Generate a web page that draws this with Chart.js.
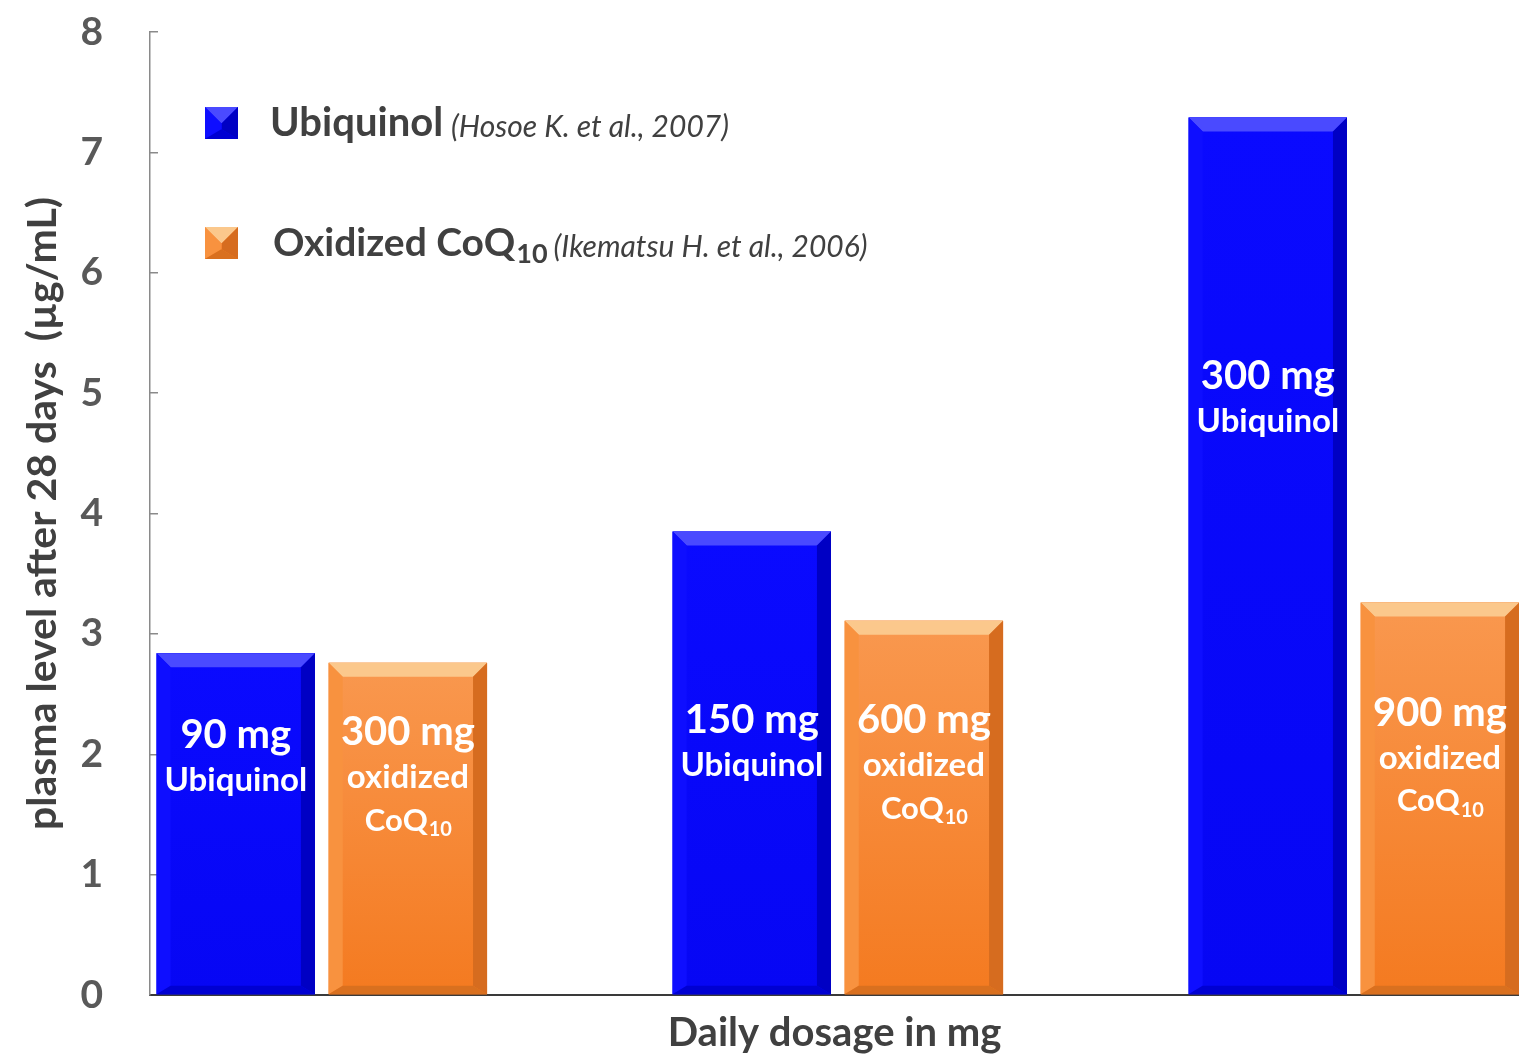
<!DOCTYPE html>
<html>
<head>
<meta charset="utf-8">
<script src="https://cdn.jsdelivr.net/npm/chart.js@4/dist/chart.umd.min.js"></script>
<style>
  html, body { margin: 0; padding: 0; background: #ffffff; }
  #wrap { width: 1519px; height: 1061px; position: relative; }
</style>
</head>
<body>
<div id="wrap"><canvas id="chart"></canvas></div>
<script>
// datos
const groups = [0, 1, 2];
const ubiquinol = [2.84, 3.85, 7.29];
const oxidized = [2.76, 3.11, 3.26];
const ubiDoses = ['90 mg', '150 mg', '300 mg'];
const oxiDoses = ['300 mg', '600 mg', '900 mg'];
const yTicks = [0, 1, 2, 3, 4, 5, 6, 7, 8];

const FONT = 'Lato, "Open Sans", sans-serif';
const GRAY = '#595959';
const DARK = '#404040';

// colores de cada serie: cara, arriba, derecha, izquierda, abajo
const blueStyle = { face: ['#0a0aff', '#0606f4'], top: '#4a4aff', right: '#0000c4', left: '#0e0eff', bottom: '#0000d2' };
const orangeStyle = { face: ['#f9984f', '#f47a20'], top: '#fbc88c', right: '#d66c1f', left: '#f8923f', bottom: '#d9701f' };

// etiquetas dentro de las barras (valor del eje Y donde va la primera línea)
const labelAt = {
    ubi: [2.16, 2.28, 5.14],
    oxi: [2.18, 2.28, 2.34]
};

function drawBevelBar(ctx, left, right, top, bottom, st, d) {
    const g = ctx.createLinearGradient(0, top, 0, bottom);
    g.addColorStop(0, st.face[0]);
    g.addColorStop(1, st.face[1]);
    ctx.fillStyle = g;
    ctx.fillRect(left, top, right - left, bottom - top);

    const poly = (pts, c) => {
        ctx.beginPath();
        ctx.moveTo(pts[0][0], pts[0][1]);
        for (let i = 1; i < pts.length; i++) ctx.lineTo(pts[i][0], pts[i][1]);
        ctx.closePath();
        ctx.fillStyle = c;
        ctx.fill();
    };
    const db = Math.min(d, (bottom - top) / 2) * 0.6;
    poly([[left, top], [right, top], [right - d, top + d], [left + d, top + d]], st.top);
    poly([[right, top], [right, bottom], [right - d, bottom - db], [right - d, top + d]], st.right);
    poly([[left, top], [left + d, top + d], [left + d, bottom - db], [left, bottom]], st.left);
    poly([[left, bottom], [left + d, bottom - db], [right - d, bottom - db], [right, bottom]], st.bottom);
}

function drawCoQ(ctx, x, y, size, sub, color, align) {
    ctx.save();
    ctx.fillStyle = color;
    ctx.textBaseline = 'middle';
    ctx.font = 'bold ' + size + 'px ' + FONT;
    const w1 = ctx.measureText('CoQ').width;
    ctx.font = 'bold ' + sub + 'px ' + FONT;
    const w2 = ctx.measureText('10').width;
    const start = align === 'center' ? x - (w1 + w2) / 2 : x;
    ctx.textAlign = 'left';
    ctx.font = 'bold ' + size + 'px ' + FONT;
    ctx.fillText('CoQ', start, y);
    ctx.font = 'bold ' + sub + 'px ' + FONT;
    ctx.fillText('10', start + w1 + 1, y + size * 0.3);
    ctx.restore();
    return w1 + w2 + 1;
}

const bevelPlugin = {
    id: 'bevel',
    afterDatasetsDraw(chart) {
        const ctx = chart.ctx;
        const styles = [blueStyle, orangeStyle];
        ctx.save();
        chart.data.datasets.forEach((ds, di) => {
            chart.getDatasetMeta(di).data.forEach(bar => {
                const p = bar.getProps(['x', 'y', 'base', 'width'], true);
                drawBevelBar(ctx, p.x - p.width / 2, p.x + p.width / 2, p.y, p.base, styles[di], 14);
            });
        });
        ctx.restore();
    }
};

const textPlugin = {
    id: 'barText',
    afterDatasetsDraw(chart) {
        const ctx = chart.ctx;
        const y = chart.scales.y;
        const area = chart.chartArea;
        ctx.save();
        ctx.textAlign = 'center';
        ctx.textBaseline = 'middle';
        ctx.fillStyle = '#ffffff';

        // azul
        chart.getDatasetMeta(0).data.forEach((bar, i) => {
            const py = y.getPixelForValue(labelAt.ubi[i]);
            ctx.font = 'bold 40px ' + FONT;
            ctx.fillText(ubiDoses[i], bar.x, py);
            ctx.font = 'bold 33px ' + FONT;
            ctx.fillText('Ubiquinol', bar.x, py + 45);
        });
        // naranja
        chart.getDatasetMeta(1).data.forEach((bar, i) => {
            const py = y.getPixelForValue(labelAt.oxi[i]);
            ctx.font = 'bold 40px ' + FONT;
            ctx.fillText(oxiDoses[i], bar.x, py);
            ctx.font = 'bold 33px ' + FONT;
            ctx.fillText('oxidized', bar.x, py + 45);
            drawCoQ(ctx, bar.x, py + 88, 31, 20, '#ffffff', 'center');
        });

        // leyenda
        const lx = area.left + 55;
        [[123, blueStyle], [243, orangeStyle]].forEach(([yc, st]) => {
            drawBevelBar(ctx, lx, lx + 33, yc - 16, yc + 16, st, 16);
        });

        ctx.fillStyle = DARK;
        ctx.textAlign = 'left';
        ctx.font = 'bold 40px ' + FONT;
        ctx.fillText('Ubiquinol', lx + 65, 123);
        const w = ctx.measureText('Ubiquinol').width;
        ctx.font = 'italic 30px ' + FONT;
        ctx.fillText('(Hosoe K. et al., 2007)', lx + 65 + w + 8, 127);

        ctx.font = 'bold 39px ' + FONT;
        ctx.fillText('Oxidized ', lx + 68, 243);
        const w0 = ctx.measureText('Oxidized ').width;
        const wc = drawCoQ(ctx, lx + 68 + w0, 243, 39, 27, DARK, 'left');
        ctx.fillStyle = DARK;
        ctx.font = 'italic 30px ' + FONT;
        ctx.fillText('(Ikematsu H. et al., 2006)', lx + 68 + w0 + wc + 6, 247);

        ctx.restore();
    }
};

new Chart(document.getElementById('chart'), {
    type: 'bar',
    data: {
        datasets: [
            {
                label: 'Ubiquinol (Hosoe K. et al., 2007)',
                data: groups.map((g, i) => ({ x: g, y: ubiquinol[i] })),
                backgroundColor: blueStyle.face[0],
                borderWidth: 0
            },
            {
                label: 'Oxidized CoQ10 (Ikematsu H. et al., 2006)',
                data: groups.map((g, i) => ({ x: g, y: oxidized[i] })),
                backgroundColor: orangeStyle.face[1],
                borderWidth: 0
            }
        ]
    },
    options: {
        responsive: true,
        maintainAspectRatio: false,
        animation: false,
        categoryPercentage: 0.667,
        barPercentage: 0.92,
        layout: { padding: { left: 18, top: 32, right: 0, bottom: 4 } },
        plugins: {
            legend: { display: false },
            tooltip: { enabled: false }
        },
        scales: {
            x: {
                type: 'linear',
                bounds: 'data',
                offset: false,
                min: -0.333,
                max: 2.32,
                afterBuildTicks: (scale) => {
                    scale.ticks = groups.map(g => ({ value: g }));
                    scale.min = -0.333;
                    scale.max = 2.32;
                },
                grid: { display: false, drawTicks: false },
                border: { display: true, color: '#3a3a3a', width: 2 },
                ticks: { display: false },
                title: {
                    display: true,
                    text: 'Daily dosage in mg',
                    color: DARK,
                    font: { family: FONT, size: 40, weight: 'bold' },
                    padding: { top: 14, bottom: 0 }
                }
            },
            y: {
                min: 0,
                max: 8,
                afterBuildTicks: (scale) => { scale.ticks = yTicks.map(v => ({ value: v })); },
                afterFit: (scale) => {
                    scale.width = 132;
                    scale.paddingTop = 0;
                    scale.paddingBottom = 0;
                },
                grid: { drawOnChartArea: false, tickLength: -8, color: '#8a8a8a', lineWidth: 1.5 },
                border: { display: true, color: '#8a8a8a', width: 1.5 },
                ticks: {
                    color: GRAY,
                    padding: 55,
                    font: { family: FONT, size: 39, weight: 'bold' }
                },
                title: {
                    display: true,
                    text: 'plasma level after 28 days  (µg/mL)',
                    color: DARK,
                    font: { family: FONT, size: 41, weight: 'bold' },
                    padding: { top: 0, bottom: 0 }
                }
            }
        }
    },
    plugins: [bevelPlugin, textPlugin]
});
</script>
</body>
</html>
